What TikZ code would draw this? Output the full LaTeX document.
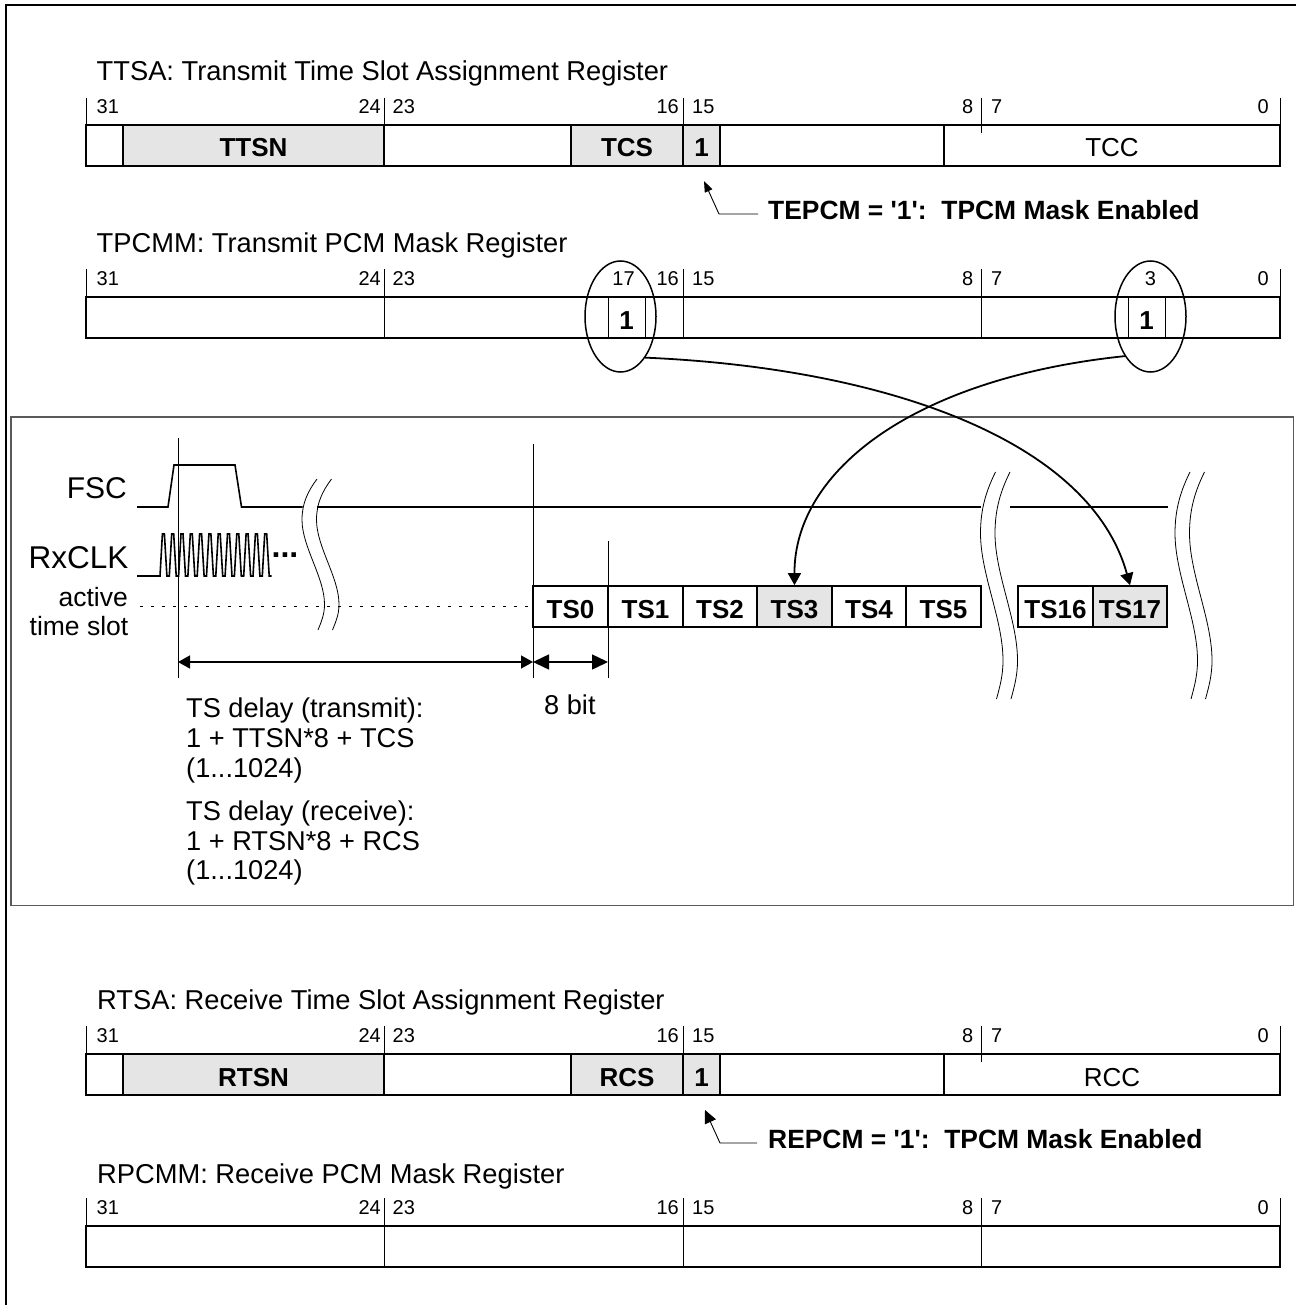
\documentclass[tikz,border=0pt]{standalone}
\usepackage{fontspec}
\setmainfont{Liberation Sans}
\usetikzlibrary{arrows.meta,shapes.geometric}
\definecolor{cellgray}{RGB}{229,229,229}
\definecolor{framegray}{RGB}{90,90,90}

% bit numbers and ticks above a register: #1 name, #2 tick top, #3 number baseline, #4 register top
\newcommand{\bitscale}[4]{%
  \draw[thinline] (86,#2) -- (86,#4);
  \draw[thinline] (384,#2) -- (384,#4);
  \draw[thinline] (683,#2) -- (683,#4);
  \draw[thinline] (981,#2) -- (981,#4+8);
  \draw[thinline] (1280,#2) -- (1280,#4);
  \node[bitnum,anchor=base west] (#1n31) at (96.5,#3) {31};
  \node[bitnum,anchor=base east] (#1n24) at (381,#3) {24};
  \node[bitnum,anchor=base west] (#1n23) at (392.5,#3) {23};
  \node[bitnum,anchor=base east] (#1n16) at (679,#3) {16};
  \node[bitnum,anchor=base west] (#1n15) at (692,#3) {15};
  \node[bitnum,anchor=base east] (#1n8) at (973.5,#3) {8};
  \node[bitnum,anchor=base west] (#1n7) at (991,#3) {7};
  \node[bitnum,anchor=base east] (#1n0) at (1269,#3) {0};
}
% two wavy break lines: #1 x at top, #2 y top, #3 height
\newcommand{\sigbreak}[3]{%
  \draw[breakline] (#1,#2)
    .. controls (#1-9,#2+0.08*#3) and (#1-15,#2+0.16*#3) .. (#1-15,#2+0.27*#3)
    .. controls (#1-15,#2+0.45*#3) and (#1+7.5,#2+0.65*#3) .. (#1+7.5,#2+0.83*#3)
    .. controls (#1+7.5,#2+0.9*#3) and (#1+4,#2+0.95*#3) .. (#1+1,#2+#3);
  \draw[breakline] (#1+14.5,#2)
    .. controls (#1+5.5,#2+0.08*#3) and (#1-0.5,#2+0.16*#3) .. (#1-0.5,#2+0.27*#3)
    .. controls (#1-0.5,#2+0.45*#3) and (#1+22,#2+0.65*#3) .. (#1+22,#2+0.83*#3)
    .. controls (#1+22,#2+0.9*#3) and (#1+18.5,#2+0.95*#3) .. (#1+15.5,#2+#3);
}

\begin{document}
\begin{tikzpicture}[x=1pt, y=-1pt,
  thinline/.style={draw=black, line width=0.9pt},
  breakline/.style={draw=black, line width=0.8pt},
  sigline/.style={draw=black, line width=1.6pt},
  regtitle/.style={font=\fontsize{27.3}{32}\selectfont, inner sep=0pt},
  bitnum/.style={font=\fontsize{20}{24}\selectfont, inner sep=0pt},
  sidelabel/.style={font=\fontsize{30}{36}\selectfont, inner sep=0pt, anchor=base east},
  regcell/.style={draw=black, line width=1.7pt, minimum height=41pt, inner sep=0pt,
    text height=23pt, text depth=0pt, font=\fontsize{26}{30}\selectfont\bfseries},
  graycell/.style={regcell, fill=cellgray},
  plainreg/.style={regcell, minimum width=1194pt},
  maskcell/.style={thinline, minimum height=41pt, inner sep=0pt, text height=23pt, text depth=0pt,
    font=\fontsize{26}{30}\selectfont\bfseries},
  masklip/.style={draw=black, line width=1.5pt, ellipse, inner sep=0pt, minimum width=71pt, minimum height=111pt},
  tscell/.style={regcell, minimum width=74.5pt},
  maskarrow/.style={line width=1.8pt, -{Triangle[length=12pt,width=13pt]}},
  leader/.style={line width=0.9pt, -{Triangle[length=11pt,width=8pt]}},
  note/.style={font=\fontsize{27.2}{29.6}\selectfont, inner sep=0pt, align=left, anchor=north west}]

\useasboundingbox (0,0) rectangle (1296,1305);

% outer frame
\draw[line width=2pt] (6,1305) -- (6,5.5) -- (1296,5.5);

% TTSA
\node[regtitle,anchor=base west] (ttsatitle) at (96.5,81) {TTSA: Transmit Time Slot Assignment Register};
\node[regcell,minimum width=37pt] (ttsa0) at (104.5,145.5) {};
\node[graycell,minimum width=261pt] (ttsn) at (253.5,145.5) {TTSN};
\node[regcell,minimum width=187pt] (ttsa1) at (477.5,145.5) {};
\node[graycell,minimum width=112pt] (tcs) at (627,145.5) {TCS};
\node[graycell,minimum width=37pt] (tepcmbit) at (701.5,145.5) {1};
\node[regcell,minimum width=224pt] (ttsa2) at (832,145.5) {};
\node[regcell,minimum width=336pt,font=\fontsize{26}{30}\selectfont] (tcc) at (1112,145.5) {TCC};
\bitscale{ttsa}{98}{114}{125}

\node[font=\fontsize{26.4}{30}\selectfont\bfseries,inner sep=0pt,anchor=base west] (tepcm) at (768,219.5)
  {TEPCM = \textquotesingle 1\textquotesingle:\ \ TPCM Mask Enabled};
\coordinate (tepcmend) at (758,214);
\coordinate (tepcmbend) at (719,214);
\coordinate (tepcmtip) at (704,181);
\draw[leader] (tepcmend) -- (tepcmbend) -- (tepcmtip);

% TPCMM
\node[regtitle,anchor=base west] (tpcmmtitle) at (96.5,253) {TPCMM: Transmit PCM Mask Register};
\node[plainreg] (tpcmm) at (683,317.5) {};
\bitscale{tpcmm}{269}{286}{297}
\draw[thinline] (384,297) -- (384,338);
\draw[thinline] (683,297) -- (683,338);
\draw[thinline] (981,297) -- (981,338);
\node[maskcell,draw,minimum width=37pt] (mask17) at (626.5,317.5) {1};
\node[maskcell,draw,minimum width=37pt] (mask3) at (1146.5,317.5) {1};
\node[bitnum,anchor=base] (tpcmmn17) at (623.5,286) {17};
\node[bitnum,anchor=base] (tpcmmn3) at (1150.5,286) {3};
\node[masklip] (lip17) at (620.5,316.5) {};
\node[masklip] (lip3) at (1150.5,316.5) {};

% timing part
\draw[framegray, line width=1.2pt] (11,417) rectangle (1293.5,905.5);

\node[sidelabel] (fsclabel) at (127,498) {FSC};
\node[sidelabel,font=\fontsize{31.5}{36}\selectfont] (rxclklabel) at (128.5,568) {RxCLK};
\node[sidelabel,font=\fontsize{26.5}{31}\selectfont] (activelabel) at (128,606) {active};
\node[sidelabel,font=\fontsize{26.5}{31}\selectfont] (slotlabel) at (128.5,635) {time slot};

\coordinate (ref0top) at (178,438);
\coordinate (ref0bot) at (178,678);
\coordinate (ref1top) at (533,444);
\coordinate (ref1bot) at (533,678);
\coordinate (ref2top) at (608,541);
\coordinate (ref2bot) at (608,678);
\draw[thinline] (ref0top) -- (ref0bot);
\draw[thinline] (ref1top) -- (ref1bot);
\draw[thinline] (ref2top) -- (ref2bot);

\draw[sigline] (137,507) -- (168,507) -- (174,465) -- (235,465) -- (241.5,507) -- (302.5,507);
\draw[sigline] (316.5,507) -- (981,507);
\draw[sigline] (1010,507) -- (1168,507);

\draw[sigline] (137,576) -- (160,576)
  \foreach \i in {0,...,11} { -- ({160+9.3*\i+2.4},534) -- ({160+9.3*\i+4.4},534)
    -- ({160+9.3*\i+6.9},576) -- ({160+9.3*\i+9.3},576) };
\node[font=\fontsize{32}{36}\selectfont\bfseries,inner sep=0pt,anchor=base west] (clkdots) at (271.5,557.5) {...};

\draw[line width=1.5pt, dash pattern=on 2.5pt off 8.5pt] (140,606.5) -- (533,606.5);

\node[tscell] (ts0) at (570.5,606.5) {TS0};
\node[tscell] (ts1) at (645.5,606.5) {TS1};
\node[tscell] (ts2) at (720,606.5) {TS2};
\node[tscell,fill=cellgray] (ts3) at (794.5,606.5) {TS3};
\node[tscell] (ts4) at (869,606.5) {TS4};
\node[tscell] (ts5) at (943.5,606.5) {TS5};
\node[tscell] (ts16) at (1055.5,606.5) {TS16};
\node[tscell,fill=cellgray] (ts17) at (1130,606.5) {TS17};

\sigbreak{317}{479}{151}
\sigbreak{995.5}{472}{227}
\sigbreak{1190}{472}{227}

% slot curves
\draw[maskarrow] (lip17.-59.4) .. controls (885,368) and (1090,440) .. (ts17.north);
\draw[maskarrow] (lip3.-123) .. controls (915,378) and (794,470) .. (ts3.north);

\coordinate (dim0) at (178,662);
\coordinate (dim1) at (533,662);
\coordinate (dim2) at (608,662);
\draw[line width=1.5pt, {Triangle[length=12pt,width=13pt]}-{Triangle[length=12pt,width=13pt]}] (dim0) -- (dim1);
\draw[line width=1.5pt, {Triangle[length=16pt,width=15pt]}-{Triangle[length=16pt,width=15pt]}] (dim1) -- (dim2);

\node[note] (txdelay) at (186,698) {TS delay (transmit):\\1 + TTSN*8 + TCS\\(1...1024)};
\node[note] (rxdelay) at (186,800.5) {TS delay (receive):\\1 + RTSN*8 + RCS\\(1...1024)};
\node[note] (bitlabel) at (544,695) {8 bit};

% RTSA
\node[regtitle,anchor=base west] (rtsatitle) at (97,1009) {RTSA: Receive Time Slot Assignment Register};
\node[regcell,minimum width=37pt] (rtsa0) at (104.5,1074.5) {};
\node[graycell,minimum width=261pt] (rtsn) at (253.5,1074.5) {RTSN};
\node[regcell,minimum width=187pt] (rtsa1) at (477.5,1074.5) {};
\node[graycell,minimum width=112pt] (rcs) at (627,1074.5) {RCS};
\node[graycell,minimum width=37pt] (repcmbit) at (701.5,1074.5) {1};
\node[regcell,minimum width=224pt] (rtsa2) at (832,1074.5) {};
\node[regcell,minimum width=336pt,font=\fontsize{26}{30}\selectfont] (rcc) at (1112,1074.5) {RCC};
\bitscale{rtsa}{1026}{1042}{1054}

\node[font=\fontsize{26.4}{30}\selectfont\bfseries,inner sep=0pt,anchor=base west] (repcm) at (768,1148)
  {REPCM = \textquotesingle 1\textquotesingle:\ \ TPCM Mask Enabled};
\coordinate (repcmend) at (757,1143);
\coordinate (repcmbend) at (720,1143);
\coordinate (repcmtip) at (705,1110);
\draw[leader,-{Triangle[length=13pt,width=12pt]}] (repcmend) -- (repcmbend) -- (repcmtip);

% RPCMM
\node[regtitle,anchor=base west] (rpcmmtitle) at (97,1183) {RPCMM: Receive PCM Mask Register};
\node[plainreg] (rpcmm) at (683,1246.5) {};
\bitscale{rpcmm}{1198}{1214}{1226}
\draw[thinline] (384,1226) -- (384,1267);
\draw[thinline] (683,1226) -- (683,1267);
\draw[thinline] (981,1226) -- (981,1267);

\end{tikzpicture}
\end{document}
